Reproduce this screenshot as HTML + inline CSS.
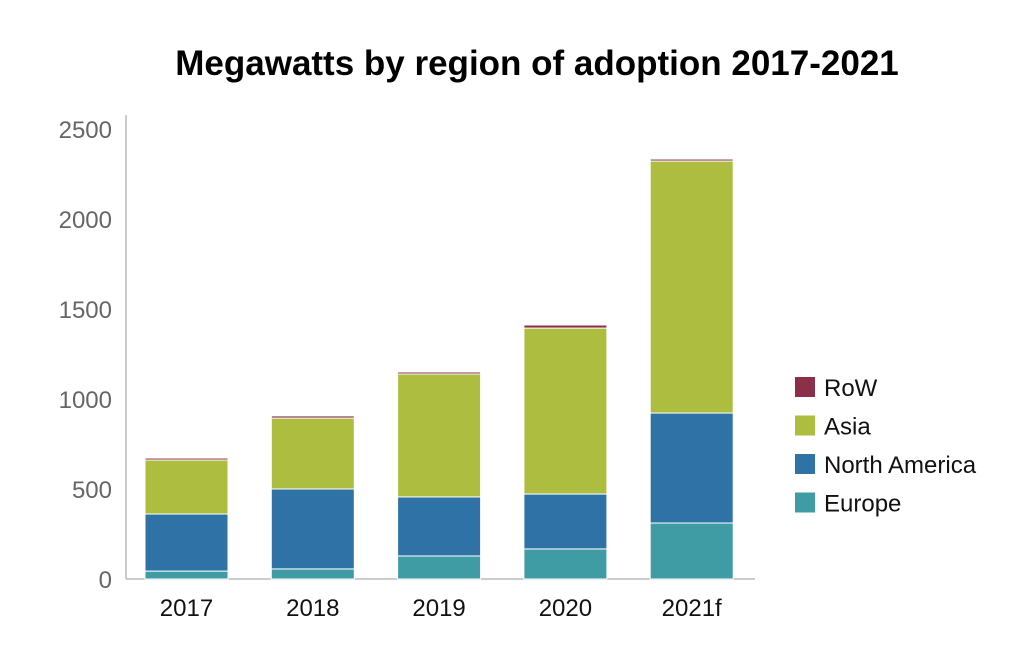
<!DOCTYPE html>
<html><head><meta charset="utf-8"><style>
body{margin:0;background:#fff;width:1024px;height:651px;overflow:hidden;font-family:"Liberation Sans",sans-serif}
</style></head><body>
<svg id="chart" width="1024" height="651">
<text x="537" y="75" text-anchor="middle" font-size="35" font-weight="bold" fill="#000">Megawatts by region of adoption 2017-2021</text>
<g id="yaxis"></g><g id="bars"></g><g id="xaxis"></g><g id="legend"></g>
</svg>
<script>
const categories=["2017","2018","2019","2020","2021f"];
const europe=[44,56,128,167,311];
const northAmerica=[317,444,328,305,611];
const asia=[300,394,683,922,1400];
const row=[11,12,11,17,11];
const yTicks=[0,500,1000,1500,2000,2500];
const seriesNames=["Europe","North America","Asia","RoW"];
const colors=["#3f9ca4","#2e72a6","#adbd3f","#8b3048"];
const ns="http://www.w3.org/2000/svg";
const y0=579,yTop=129,maxV=2500;
const y=v=>y0-(v/maxV)*(y0-yTop);
const x=i=>145+i*126.3;
const bw=83;
function mk(t,a,p){const e=document.createElementNS(ns,t);for(const k in a)e.setAttribute(k,a[k]);p.appendChild(e);return e;}
const ya=document.getElementById('yaxis');
const ax=mk('line',{x1:126,y1:115,x2:126,y2:y0,stroke:'#bbb','stroke-width':1.5},ya);


yTicks.forEach(t=>{const e=mk('text',{x:112,y:y(t)+9,'text-anchor':'end','font-size':24,fill:'#666'},ya);e.textContent=t;

});
const xl=mk('line',{x1:126,y1:y0,x2:755,y2:y0,stroke:'#bbb','stroke-width':1.5},ya);


const series=[europe,northAmerica,asia,row];
const bg=document.getElementById('bars');
categories.forEach((c,i)=>{let acc=0;series.forEach((s,j)=>{const v=s[i];const yt=y(acc+v),yb=y(acc);
const r=mk('rect',{x:x(i),y:yt,width:bw,height:Math.max(yb-yt,0.5),fill:colors[j],stroke:'#fff','stroke-width':1},bg);


acc+=v;});
const t=mk('text',{x:x(i)+bw/2,y:616,'text-anchor':'middle','font-size':24,fill:'#111'},document.getElementById('xaxis'));t.textContent=c;

});
const lg=document.getElementById('legend');
[3,2,1,0].forEach((j,k)=>{const yy=377+k*38.5;
const g=mk('g',{},lg);


mk('rect',{x:795,y:yy,width:20,height:20,fill:colors[j]},g);
const t=mk('text',{x:824,y:yy+19,'font-size':24,fill:'#111'},g);t.textContent=seriesNames[j];});
</script>
</body></html>
